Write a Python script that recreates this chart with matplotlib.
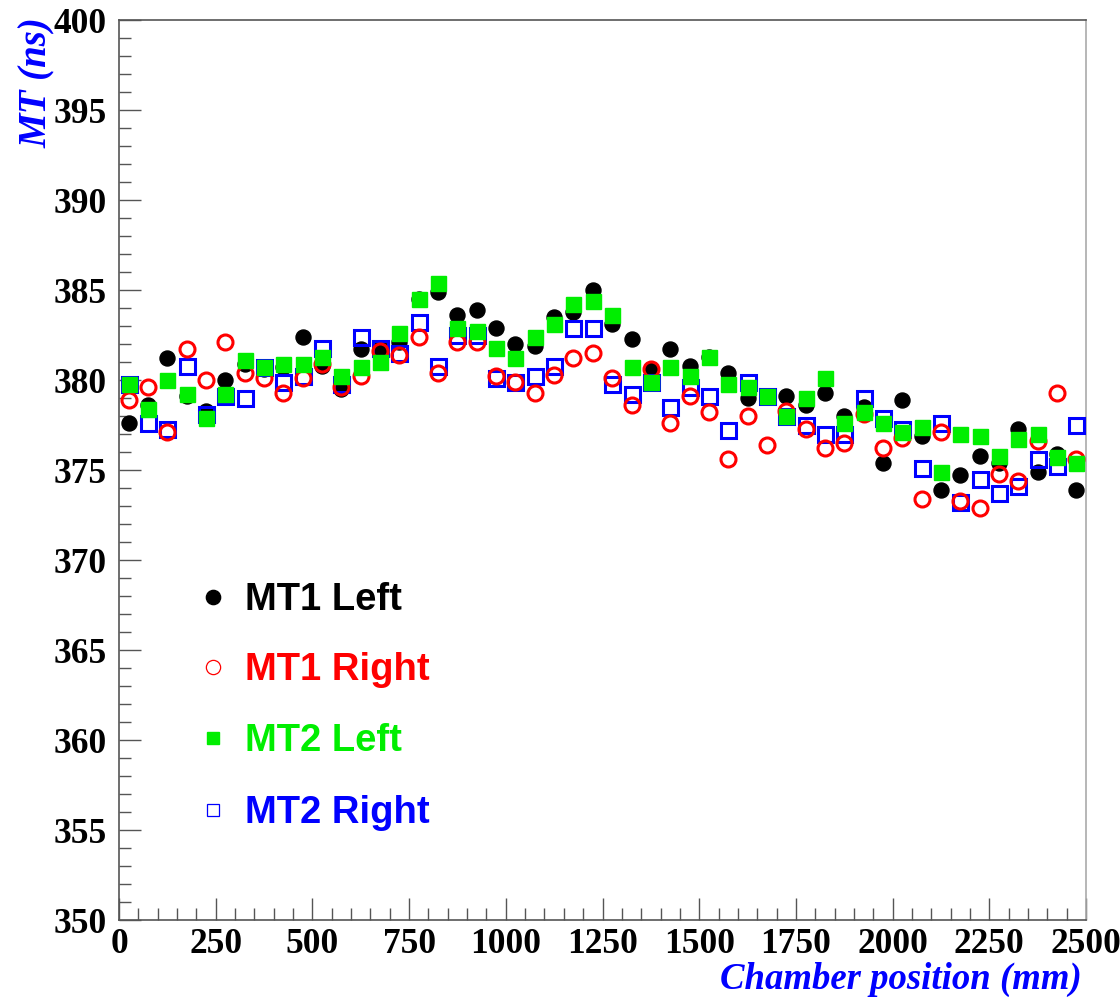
import matplotlib
matplotlib.use("Agg")
import matplotlib.pyplot as plt
from matplotlib.ticker import MultipleLocator

positions = [25 + 50 * i for i in range(50)]

mt1_left = [377.6, 378.6, 381.2, 379.1, 378.3, 380.0, 380.9, 380.6, 380.7, 382.4,
            380.8, 379.5, 381.7, 381.8, 382.1, 384.5, 384.9, 383.6, 383.9, 382.9,
            382.0, 381.9, 383.5, 383.8, 385.0, 383.1, 382.3, 380.6, 381.7, 380.8,
            381.3, 380.4, 379.0, 379.1, 379.1, 378.6, 379.3, 378.0, 378.5, 375.4,
            378.9, 376.9, 373.9, 374.7, 375.8, 375.4, 377.3, 374.9, 375.9, 373.9]

mt1_right = [378.9, 379.6, 377.1, 381.7, 380.0, 382.1, 380.4, 380.1, 379.3, 380.1,
             380.9, 379.6, 380.2, 381.6, 381.4, 382.4, 380.4, 382.1, 382.1, 380.2,
             379.9, 379.3, 380.3, 381.2, 381.5, 380.1, 378.6, 380.6, 377.6, 379.1,
             378.2, 375.6, 378.0, 376.4, 378.3, 377.3, 376.2, 376.5, 378.1, 376.2,
             376.8, 373.4, 377.1, 373.3, 372.9, 374.8, 374.4, 376.6, 379.3, 375.6]

mt2_left = [379.8, 378.4, 380.0, 379.2, 377.9, 379.2, 381.1, 380.7, 380.9, 380.9,
            381.3, 380.2, 380.7, 381.0, 382.6, 384.5, 385.4, 382.9, 382.7, 381.8,
            381.2, 382.4, 383.1, 384.2, 384.4, 383.6, 380.7, 379.9, 380.7, 380.2,
            381.3, 379.8, 379.6, 379.1, 378.0, 379.0, 380.1, 377.6, 378.2, 377.6,
            377.1, 377.4, 374.9, 377.0, 376.9, 375.8, 376.7, 377.0, 375.7, 375.4]

mt2_right = [379.8, 377.6, 377.3, 380.8, 378.1, 379.1, 379.0, 380.7, 379.9, 380.2,
             381.8, 379.8, 382.4, 381.8, 381.5, 383.2, 380.8, 382.5, 382.5, 380.1,
             379.9, 380.2, 380.8, 382.9, 382.9, 379.8, 379.2, 379.9, 378.5, 379.6,
             379.1, 377.2, 379.9, 379.1, 378.0, 377.5, 377.0, 377.0, 379.0, 377.9,
             377.3, 375.1, 377.6, 373.2, 374.5, 373.7, 374.1, 375.6, 375.2, 377.5]

labels = ["MT1 Left", "MT1 Right", "MT2 Left", "MT2 Right"]
colors = ["black", "#ff0000", "#00ee00", "#0000ff"]
x_ticks = [0, 250, 500, 750, 1000, 1250, 1500, 1750, 2000, 2250, 2500]
y_ticks = [350, 355, 360, 365, 370, 375, 380, 385, 390, 395, 400]

W, H = 1120, 997
fig = plt.figure(figsize=(W / 100, H / 100), dpi=100)
ax_l, ax_r, ax_t, ax_b = 119, 1086, 20, 920
ax = fig.add_axes([ax_l / W, 1 - ax_b / H, (ax_r - ax_l) / W, (ax_b - ax_t) / H])

ms = 10.8
ax.plot(positions, mt1_left, ls="none", marker="o", ms=ms, mfc=colors[0], mec=colors[0], zorder=3)
ax.plot(positions, mt2_right, ls="none", marker="s", ms=ms, mfc="none", mec=colors[3], mew=2.2, zorder=4)
ax.plot(positions, mt1_right, ls="none", marker="o", ms=ms, mfc="none", mec=colors[1], mew=2.2, zorder=5)
ax.plot(positions, mt2_left, ls="none", marker="s", ms=ms, mfc=colors[2], mec=colors[2], zorder=6)

ax.set_xlim(0, 2500)
ax.set_ylim(350, 400)
ax.set_xticks(x_ticks)
ax.set_yticks(y_ticks)
ax.xaxis.set_minor_locator(MultipleLocator(50))
ax.yaxis.set_minor_locator(MultipleLocator(1))
ax.tick_params(which="both", direction="in", color="#555555", width=1)
ax.tick_params(which="major", length=16)
ax.tick_params(which="minor", length=8.5)
ax.tick_params(axis="y", pad=9)
ax.tick_params(axis="x", pad=6)
for lab in ax.get_xticklabels() + ax.get_yticklabels():
    lab.set_fontfamily("Liberation Serif")
    lab.set_fontweight("bold")
    lab.set_fontsize(25.5)
for s in ax.spines.values():
    s.set_color("#555555")
    s.set_linewidth(1.2)
ax.spines["right"].set_color("#aaaaaa")

# legend, drawn by hand in axes coordinates
leg_marker_x = (213 - ax_l) / (ax_r - ax_l)
leg_text_x = (245 - ax_l) / (ax_r - ax_l)
row_pix = [597, 667, 738, 810]
leg_styles = [
    dict(marker="o", mfc=colors[0], mec=colors[0], mew=1),
    dict(marker="o", mfc="none", mec=colors[1], mew=0.9),
    dict(marker="s", mfc=colors[2], mec=colors[2], mew=1),
    dict(marker="s", mfc="none", mec=colors[3], mew=0.9),
]
for lab, col, st, yp in zip(labels, colors, leg_styles, row_pix):
    yf = (ax_b - yp) / (ax_b - ax_t)
    ybase = (ax_b - (yp + 13)) / (ax_b - ax_t)
    ax.plot([leg_marker_x], [yf], ls="none", ms=ms * (0.95 if st["marker"] == "o" else 0.85),
            transform=ax.transAxes, zorder=8, clip_on=False, **st)
    ax.text(leg_text_x, ybase, lab, transform=ax.transAxes, ha="left", va="baseline",
            color=col, fontfamily="Liberation Sans", fontweight="bold", fontsize=27.5, zorder=8)

fig.text(1082 / W, 1 - 979 / H, "Chamber position (mm)", ha="right", va="center",
         color="#0000ff", fontfamily="Liberation Serif", fontweight="bold", fontstyle="italic",
         fontsize=26.5)
fig.text(37 / W, 1 - 17 / H, "MT (ns)", ha="center", va="top", rotation=90,
         color="#0000ff", fontfamily="Liberation Serif", fontweight="bold", fontstyle="italic",
         fontsize=28)

fig.savefig("out.png", dpi=100)
